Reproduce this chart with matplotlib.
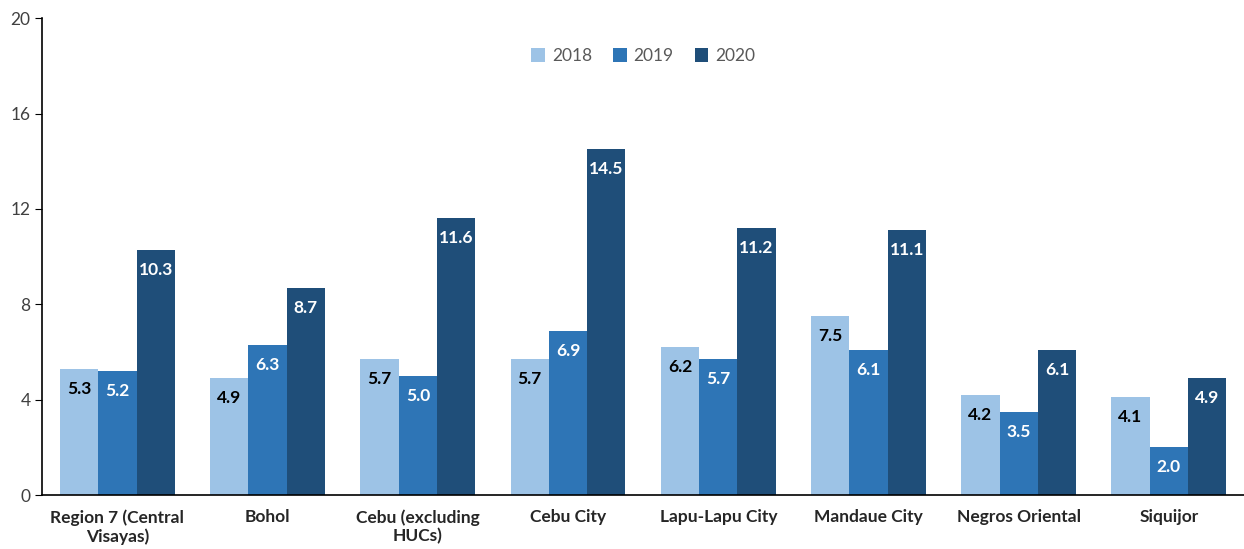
import numpy as np
import matplotlib.pyplot as plt

plt.rcParams['font.family'] = ['Lato', 'DejaVu Sans']

categories = ['Region 7 (Central\nVisayas)', 'Bohol', 'Cebu (excluding\nHUCs)', 'Cebu City',
              'Lapu-Lapu City', 'Mandaue City', 'Negros Oriental', 'Siquijor']
v2018 = [5.3, 4.9, 5.7, 5.7, 6.2, 7.5, 4.2, 4.1]
v2019 = [5.2, 6.3, 5.0, 6.9, 5.7, 6.1, 3.5, 2.0]
v2020 = [10.3, 8.7, 11.6, 14.5, 11.2, 11.1, 6.1, 4.9]
years = ['2018', '2019', '2020']
colors = ['#9DC3E6', '#2E75B6', '#1F4E79']
label_colors = ['black', 'white', 'white']


def main():
    fig = plt.figure(figsize=(12.44, 5.49), dpi=100)
    ax = fig.add_axes([0.034, 0.098, 0.966, 0.869])

    x = np.arange(len(categories))
    w = 0.255
    series = [v2018, v2019, v2020]
    for i, vals in enumerate(series):
        bars = ax.bar(x + (i - 1) * w, vals, w, color=colors[i], label=years[i])
        for b, v in zip(bars, vals):
            # value label sits just inside the top of each bar
            ax.annotate('%.1f' % v, (b.get_x() + b.get_width() / 2, v),
                        xytext=(0, -20), textcoords='offset pixels',
                        ha='center', va='center', fontsize=12.5, fontweight='bold',
                        color=label_colors[i])

    ax.set_xlim(-0.5, len(categories) - 0.5)
    ax.set_ylim(0, 20)
    ax.set_yticks([0, 4, 8, 12, 16, 20])
    ax.tick_params(axis='y', labelsize=12.5, length=5, colors='black', labelcolor='#404040')
    ax.tick_params(axis='x', length=0, pad=10)
    ax.set_xticks(x)
    ax.set_xticklabels(categories, fontsize=12.5, fontweight='bold', color='#262626')
    ax.spines['top'].set_visible(False)
    ax.spines['right'].set_visible(False)
    ax.spines['left'].set_linewidth(1.2)
    ax.spines['bottom'].set_linewidth(1.2)

    leg = ax.legend(loc='upper center', bbox_to_anchor=(0.5, 0.97), ncol=3, frameon=False,
                    fontsize=12.5, handlelength=0.8, handleheight=0.8, columnspacing=1.2,
                    handletextpad=0.4)
    for t in leg.get_texts():
        t.set_color('#595959')

    fig.savefig('out.png', dpi=100)


if __name__ == "__main__":
    main()
